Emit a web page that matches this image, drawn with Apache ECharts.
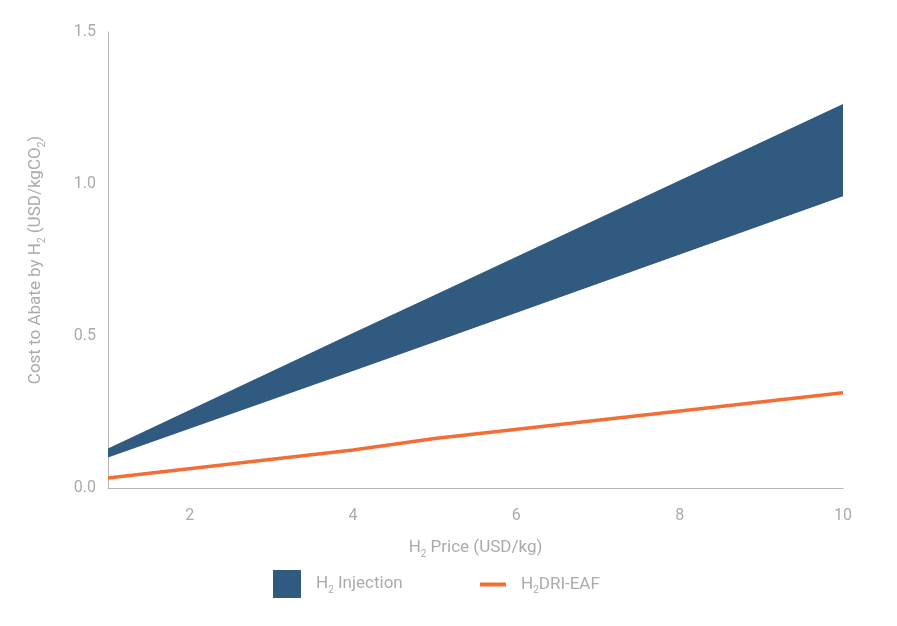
<!DOCTYPE html>
<html>
<head>
<meta charset="UTF-8">
<title>H2 cost to abate</title>
<script src="https://cdn.jsdelivr.net/npm/echarts@6/dist/echarts.min.js"></script>
<style>
  html, body { margin: 0; padding: 0; background: #fff; }
  #main { width: 897px; height: 626px; }
</style>
</head>
<body>
<div id="main"></div>
<script>
// H2 price (USD/kg)
var priceX = [1, 4, 5, 10];
// H2 injection range, low and high edges
var injLow = [0.10, 0.385, 0.48, 0.96];
var injHigh = [0.13, 0.51, 0.635, 1.263];
// H2 DRI-EAF
var driEaf = [0.033, 0.125, 0.163, 0.313];
var xTicks = [2, 4, 6, 8, 10];

var grey = '#ababab';
var blue = '#305a80';
var orange = '#f26e35';
var font = 'Roboto';
var sub = { fontSize: 10, color: grey, fontFamily: font, verticalAlign: 'bottom', padding: [12, 0, 0, 0] };

var bandRows = [], linePts = [];
for (var i = 0; i < priceX.length; i++) {
  bandRows.push([priceX[i], injLow[i], injHigh[i]]);
  linePts.push([priceX[i], driEaf[i]]);
}

// whole band drawn as one polygon, using the axes' coord mapping
function renderBand(params, api) {
  if (params.dataIndex !== 0) return;
  var pts = [];
  for (var i = 0; i < priceX.length; i++) pts.push(api.coord([priceX[i], injHigh[i]]));
  for (var j = priceX.length - 1; j >= 0; j--) pts.push(api.coord([priceX[j], injLow[j]]));
  return { type: 'polygon', shape: { points: pts }, style: { fill: blue } };
}

var chart = echarts.init(document.getElementById('main'));
var option = {
  animation: false,
  textStyle: { fontFamily: font },
  grid: { left: 108, right: 54, top: 32, bottom: 138 },
  legend: [{
    left: 268, top: 565, icon: 'rect', itemWidth: 28, itemHeight: 28,
    data: ['H2 Injection'],
    formatter: function () { return 'H{s|2} Injection'; },
    textStyle: { color: grey, fontSize: 17, padding: [0, 0, 0, 10], rich: { s: sub } }
  }, {
    left: 475, top: 571, icon: 'rect', itemWidth: 26, itemHeight: 4,
    data: ['H2DRI-EAF'],
    formatter: function () { return 'H{s|2}DRI-EAF'; },
    textStyle: { color: grey, fontSize: 17, padding: [0, 0, 0, 10], rich: { s: sub } }
  }],
  xAxis: {
    type: 'value', min: 1, max: 10,
    name: 'H{s|2} Price (USD/kg)',
    nameLocation: 'middle', nameGap: 49,
    nameTextStyle: { color: grey, fontSize: 17, rich: { s: sub } },
    axisLine: { show: true, lineStyle: { color: '#b4b4b4', width: 1 } },
    axisTick: { show: false },
    splitLine: { show: false },
    axisLabel: { color: grey, fontSize: 16, margin: 20, customValues: xTicks }
  },
  yAxis: {
    type: 'value', min: 0, max: 1.5, interval: 0.5,
    name: 'Cost to Abate by H{s|2} (USD/kgCO{s|2})',
    nameLocation: 'middle', nameGap: 61, nameRotate: 90,
    nameTextStyle: { color: grey, fontSize: 17, rich: { s: sub } },
    axisLine: { show: true, lineStyle: { color: '#b4b4b4', width: 1 } },
    axisTick: { show: false },
    splitLine: { show: false },
    axisLabel: { color: grey, fontSize: 16, margin: 12, formatter: function (v) { return v.toFixed(1); } }
  },
  series: [{
    name: 'H2 Injection', type: 'custom', data: bandRows,
    encode: { x: 0, y: [1, 2] },
    itemStyle: { color: blue },
    renderItem: renderBand, silent: true
  }, {
    name: 'H2DRI-EAF', type: 'line', data: linePts, z: 3,
    symbol: 'none', itemStyle: { color: orange },
    lineStyle: { color: orange, width: 3.5 }
  }]
};
chart.setOption(option);
</script>
</body>
</html>
